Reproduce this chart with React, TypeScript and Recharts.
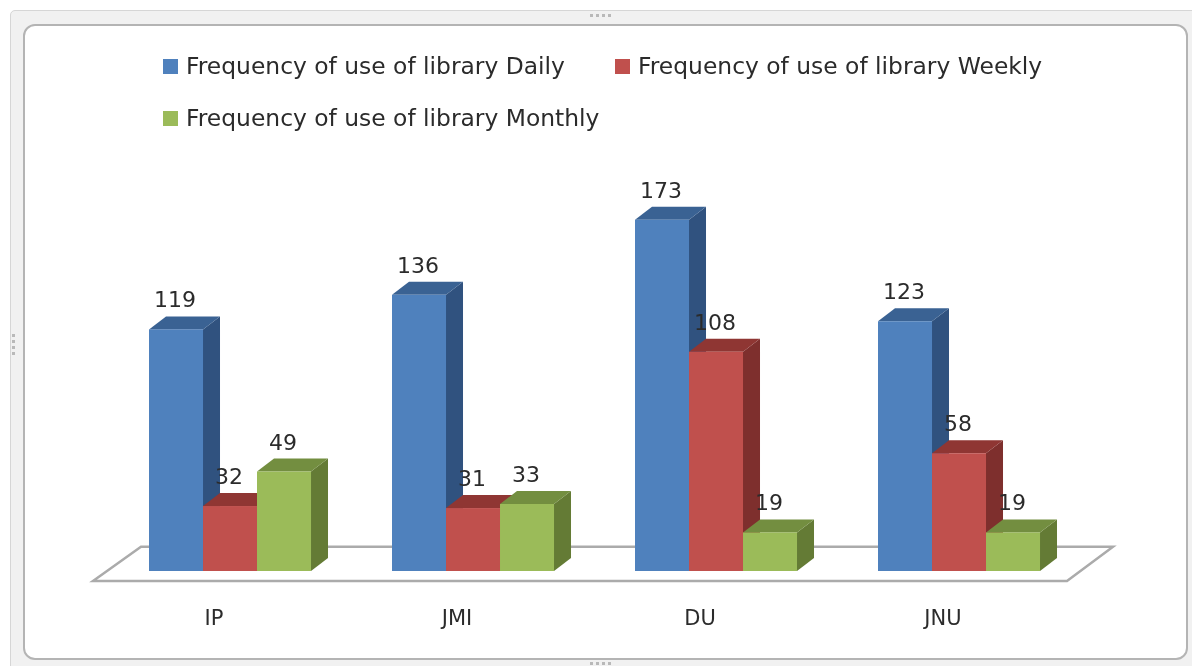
import React from "react";
import { BarChart, Bar, XAxis, YAxis, Legend, LabelList, ReferenceArea } from "recharts";

const categories = ["IP", "JMI", "DU", "JNU"];
const dailyValues = [119, 136, 173, 123];
const weeklyValues = [32, 31, 108, 58];
const monthlyValues = [49, 33, 19, 19];
const seriesNames = [
  "Frequency of use of library Daily",
  "Frequency of use of library Weekly",
  "Frequency of use of library Monthly",
];

const rows = categories.map((name, i) => ({
  name,
  daily: dailyValues[i],
  weekly: weeklyValues[i],
  monthly: monthlyValues[i],
}));

const FONT = "'DejaVu Sans', sans-serif";
const DX = 17;
const DY = 13;

const shape3d = (side: string, top: string) => (p: any) => {
  const { x, y, width: w, height: h, fill } = p;
  return (
    <g>
      <polygon points={`${x + w},${y} ${x + w + DX},${y - DY} ${x + w + DX},${y + h - DY} ${x + w},${y + h}`} fill={side} />
      <polygon points={`${x},${y} ${x + DX},${y - DY} ${x + w + DX},${y - DY} ${x + w},${y}`} fill={top} />
      <rect x={x} y={y} width={w} height={h} fill={fill} />
    </g>
  );
};

const ValueLabel = (p: any) => {
  const { x, y, width, value } = p;
  return (
    <text x={x + width / 2 - 1} y={y - 22} textAnchor="middle" fontFamily={FONT} fontSize={22} fill="#2b2b2b">
      {value}
    </text>
  );
};

const CategoryTick = (p: any) => (
  <text x={p.x - 16} y={p.y + 46} textAnchor="middle" fontFamily={FONT} fontSize={21} fill="#2b2b2b">
    {p.payload.value}
  </text>
);

const Floor = (p: any) => {
  const { x, y, width: w, height: h } = p;
  return (
    <polygon
      points={`${x - 15.5},${y + h + 10} ${x + 32.5},${y} ${x + w + 32.5},${y} ${x + w - 13.5},${y + h + 10}`}
      fill="#fff"
      stroke="#ababab"
      strokeWidth={2.5}
    />
  );
};

const LegendContent = (p: any) => {
  const items = [...(p.payload || [])].sort((a: any, b: any) => seriesNames.indexOf(a.value) - seriesNames.indexOf(b.value));
  return (
    <div style={{ display: "flex", flexWrap: "wrap", width: 920, fontFamily: FONT, fontSize: 23.4, color: "#2b2b2b" }}>
      {items.map((e: any, i: number) => (
        <div key={i} style={{ display: "flex", alignItems: "center", height: 52, width: i === 0 ? 452 : 468, whiteSpace: "nowrap" }}>
          <span style={{ width: 15, height: 15, background: e.color, marginRight: 8, display: "inline-block" }} />
          {e.value}
        </div>
      ))}
    </div>
  );
};

const dots = (left: number, top: number, vertical: boolean) => (
  <div style={{ position: "absolute", left, top, display: "flex", flexDirection: vertical ? "column" : "row", gap: 3 }}>
    {[0, 1, 2, 3].map((i) => (
      <span key={i} style={{ width: 3, height: 3, background: "#b9b9b9", display: "block" }} />
    ))}
  </div>
);

export default function App() {
  return (
    <div style={{ position: "absolute", left: 0, top: 0, width: 1192, height: 666, background: "#fff", overflow: "hidden", filter: "blur(0.5px)" }}>
      <div style={{ position: "absolute", left: 10, top: 10, width: 1190, height: 670, background: "#f1f1f1", border: "1px solid #d6d6d6", borderRadius: 5 }} />
      <div style={{ position: "absolute", left: 23, top: 24, width: 1161, height: 632, background: "#fff", border: "2px solid #b4b4b4", borderRadius: 12 }} />
      {dots(590, 14, false)}
      {dots(590, 662, false)}
      {dots(12, 334, true)}
      <div style={{ position: "absolute", left: 0, top: 0 }}>
        <BarChart
          width={1192}
          height={666}
          data={rows}
          margin={{ top: 0, right: 111.5, bottom: 94, left: 108.5 }}
          barCategoryGap="16.67%"
          barGap={0}
        >
          <XAxis dataKey="name" axisLine={false} tickLine={false} tick={<CategoryTick />} interval={0} height={1} />
          <YAxis hide domain={[0, 230]} width={0} />
          <ReferenceArea y1={0} y2={12} ifOverflow="visible" shape={<Floor />} />
          <Legend
            verticalAlign="top"
            align="left"
            content={<LegendContent />}
            wrapperStyle={{ left: 163, top: 40, width: 920 }}
          />
          <Bar dataKey="daily" name={seriesNames[0]} fill="#4F81BD" isAnimationActive={false} shape={shape3d("#30527F", "#3A6293")}>
            <LabelList dataKey="daily" content={<ValueLabel />} />
          </Bar>
          <Bar dataKey="weekly" name={seriesNames[1]} fill="#C0504D" isAnimationActive={false} shape={shape3d("#7E2F2D", "#8F3633")}>
            <LabelList dataKey="weekly" content={<ValueLabel />} />
          </Bar>
          <Bar dataKey="monthly" name={seriesNames[2]} fill="#9BBB59" isAnimationActive={false} shape={shape3d("#647B35", "#738E40")}>
            <LabelList dataKey="monthly" content={<ValueLabel />} />
          </Bar>
        </BarChart>
      </div>
    </div>
  );
}
